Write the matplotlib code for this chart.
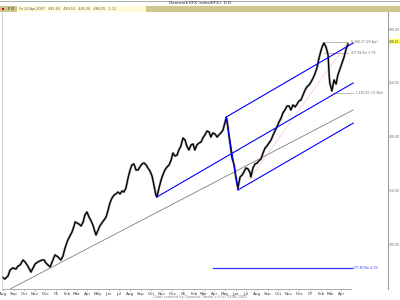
import matplotlib
matplotlib.use("Agg")
import matplotlib.pyplot as plt
import matplotlib.dates as mdates
import numpy as np
import datetime as dt

# ---------------- data ----------------
price_dates = [
    "2004-07-30","2004-08-07","2004-08-16","2004-08-22","2004-08-30","2004-09-08","2004-09-14","2004-09-20",
    "2004-09-28","2004-10-04","2004-10-10","2004-10-15","2004-10-21","2004-10-27","2004-11-02","2004-11-10",
    "2004-11-16","2004-11-22","2004-11-28","2004-12-03","2004-12-09","2004-12-15","2004-12-21","2004-12-29",
    "2005-01-07","2005-01-15","2005-01-21","2005-01-27","2005-02-04","2005-02-10","2005-02-16","2005-02-22",
    "2005-02-25","2005-03-02","2005-03-08","2005-03-14","2005-03-20","2005-03-25","2005-03-31","2005-04-06",
    "2005-04-12","2005-04-17","2005-04-23","2005-04-26","2005-05-02","2005-05-07","2005-05-13","2005-05-19",
    "2005-05-25","2005-05-30","2005-06-05","2005-06-11","2005-06-17","2005-06-22","2005-06-28","2005-07-04",
    "2005-07-10","2005-07-15","2005-07-21","2005-07-27","2005-08-02","2005-08-07","2005-08-13","2005-08-19",
    "2005-08-25","2005-08-30","2005-09-05","2005-09-11","2005-09-17","2005-09-22","2005-09-28","2005-10-04",
    "2005-10-10","2005-10-15","2005-10-18","2005-10-24","2005-10-30","2005-11-05","2005-11-10","2005-11-16",
    "2005-11-22","2005-11-28","2005-12-03","2005-12-09","2005-12-15","2005-12-20","2005-12-26","2006-01-01",
    "2006-01-07","2006-01-12","2006-01-18","2006-01-24","2006-01-30","2006-02-04","2006-02-10","2006-02-16",
    "2006-02-22","2006-02-27","2006-03-05","2006-03-11","2006-03-17","2006-03-22","2006-03-28","2006-04-03",
    "2006-04-09","2006-04-14","2006-04-20","2006-04-26","2006-05-02","2006-05-05","2006-05-07","2006-05-10",
    "2006-05-16","2006-05-22","2006-05-28","2006-06-02","2006-06-05","2006-06-08","2006-06-14","2006-06-20",
    "2006-06-25","2006-07-01","2006-07-07","2006-07-13","2006-07-15","2006-07-21","2006-07-27","2006-08-02",
    "2006-08-07","2006-08-13","2006-08-19","2006-08-25","2006-08-30","2006-09-05","2006-09-11","2006-09-17",
    "2006-09-22","2006-09-28","2006-10-04","2006-10-10","2006-10-15","2006-10-21","2006-10-27","2006-11-02",
    "2006-11-07","2006-11-13","2006-11-19","2006-11-25","2006-11-30","2006-12-06","2006-12-12","2006-12-18",
    "2006-12-23","2006-12-29","2007-01-04","2007-01-10","2007-01-15","2007-01-21","2007-01-27","2007-02-02",
    "2007-02-07","2007-02-10","2007-02-16","2007-02-22","2007-02-25","2007-02-27","2007-03-05","2007-03-11",
    "2007-03-17","2007-03-22","2007-03-28","2007-04-03","2007-04-09","2007-04-14","2007-04-20",
]
price_close = [
    269.4,267.5,270.3,275.9,277.8,276.8,279.6,280.6,
    285.2,283.4,280.6,277.8,274.0,277.8,281.5,283.4,
    284.3,285.2,285.2,282.4,280.6,278.7,283.4,289.9,
    288.0,285.2,288.9,296.4,303.8,307.6,311.3,316.9,
    320.6,319.7,318.7,316.9,320.6,327.1,329.9,325.2,
    321.5,317.8,311.3,308.5,313.1,316.9,319.7,322.5,
    325.2,330.8,338.3,342.9,345.7,346.7,348.5,346.7,
    349.5,348.5,352.2,361.5,369.0,373.7,374.6,369.0,
    369.0,371.8,374.6,375.5,373.7,370.9,368.1,363.4,
    354.1,345.7,343.9,352.2,359.7,365.3,369.0,371.8,
    373.7,378.3,384.8,382.0,382.9,387.6,391.3,398.8,
    396.9,391.3,387.6,392.3,393.2,387.6,392.3,394.1,
    395.1,398.8,401.6,405.3,404.4,399.7,403.5,402.5,
    399.7,401.6,403.5,406.3,413.7,417.4,416.5,409.0,
    394.1,380.2,373.7,362.5,356.9,352.2,362.5,364.3,
    367.1,370.9,369.9,366.2,362.5,370.9,374.6,375.5,
    377.4,379.2,384.8,389.5,391.3,394.1,396.9,401.6,
    405.3,409.0,413.7,417.4,422.1,424.9,428.6,428.6,
    424.9,429.5,427.7,430.4,433.2,434.2,438.8,443.5,
    446.3,448.1,450.9,454.7,458.4,464.0,473.3,480.7,
    485.4,487.2,483.5,476.1,457.4,450.0,442.6,452.8,
    449.1,457.4,463.0,468.6,474.2,480.7,486.3,
]

# trend / channel lines (start date, start value, end date, end value)
gray_trend = ("2004-08-22", 258.2, "2007-05-05", 424.9)
chan_mid = ("2005-10-18", 343.9, "2007-05-05", 450.0)
chan_up = ("2006-05-05", 418.3, "2007-05-05", 487.2)
chan_low = ("2006-06-08", 350.4, "2007-05-05", 412.6)
drop_line = ("2006-05-05", 418.3, "2006-06-08", 350.4)
red_line = ("2006-07-10", 359.7, "2007-04-17", 487.2)

# horizontal levels: (start, end, value, label)
gray_levels = [
    ("2007-02-09", "2007-04-20", 488.2, "H 488.27 (20-Apr)"),
    ("2007-02-09", "2007-04-20", 477.9, "477.84 Ret 3.7%"),
    ("2007-03-07", "2007-05-04", 440.7, "L 440.65 (05-Mar)"),
]
blue_level = ("2006-03-28", "2007-05-02", 277.8, "277.80 Ret 4.1%")

month_labels = ["Aug","Sep","Oct","Nov","Dec","05","Feb","Mar","Apr","May","Jun","Jul",
                "Aug","Sep","Oct","Nov","Dec","06","Feb","Mar","Apr","May","Jun","Jul",
                "Aug","Sep","Oct","Nov","Dec","07","Feb","Mar","Apr"]
y_ticks = [300, 350, 400, 450, 500]
last_price = 488.25

# ---------------- drawing ----------------
def d(s):
    return mdates.date2num(dt.datetime.strptime(s, "%Y-%m-%d"))

fig = plt.figure(figsize=(4, 3), dpi=100)
fig.patch.set_facecolor("white")
ax = fig.add_axes([0.005, 1 - 289/300, 0.97 - 0.005, (289 - 12)/300])

x0 = d("2005-01-01")
ax.set_xlim(x0 - 155.2, x0 + 954.2)
ax.set_ylim(258.2, 516.1)

xs = [d(s) for s in price_dates]
ax.plot(xs, price_close, color="#a0a0a0", lw=1.7, zorder=3)
ax.plot(xs, price_close, color="black", lw=0.9, zorder=4)

def seg(t, **kw):
    ax.plot([d(t[0]), d(t[2])], [t[1], t[3]], **kw)

seg(gray_trend, color="#808080", lw=0.6, zorder=2)
seg(chan_mid, color="#0000ff", lw=0.8, zorder=5)
seg(chan_up, color="#0000ff", lw=0.8, zorder=5)
seg(chan_low, color="#0000ff", lw=0.8, zorder=5)
seg(drop_line, color="#0000ff", lw=0.8, zorder=5)
seg(red_line, color="#ff9090", lw=0.5, ls=(0, (1, 1)), zorder=2)

for s, e, v, lab in gray_levels:
    ax.plot([d(s), d(e)], [v, v], color="#b0b0b0", lw=0.6, zorder=2)
    ax.text(d(e) + 8, v, lab, fontsize=2.2, color="#707070", va="center", ha="left")

s, e, v, lab = blue_level
ax.plot([d(s), d(e)], [v, v], color="#3030ff", lw=0.9, zorder=2)
ax.text(d(e) + 4, v, lab, fontsize=2.2, color="#3030ff", va="center", ha="left")

# axes styling
for sp in ["top", "left"]:
    ax.spines[sp].set_visible(False)
ax.spines["right"].set_color("#a0a0a0")
ax.spines["right"].set_linewidth(0.8)
ax.spines["bottom"].set_color("#a0a0a0")
ax.spines["bottom"].set_linewidth(0.6)
ax.spines["bottom"].set_bounds(x0 - 155.2, d("2007-04-30"))

# month ticks
mt = []
y, m = 2004, 8
for _ in month_labels:
    mt.append(mdates.date2num(dt.datetime(y, m, 1)))
    m += 1
    if m > 12:
        m = 1
        y += 1
ax.set_xticks(mt)
ax.set_xticklabels(month_labels, fontsize=3.0, color="#404040")
ax.tick_params(axis="x", length=1.5, width=0.4, pad=0.8, color="#a0a0a0")

ax.yaxis.tick_right()
ax.set_yticks(y_ticks)
ax.set_yticklabels([f"{t:.2f}" for t in y_ticks], fontsize=2.2, color="#606060")
ax.tick_params(axis="y", length=0, pad=0.8)

ax.text(1.003, last_price, f"{last_price:.2f}", transform=ax.get_yaxis_transform(),
        fontsize=2.2, color="#404040", va="center", ha="left",
        bbox=dict(boxstyle="square,pad=0.15", fc="#ffff60", ec="none"))

# header
fig.add_artist(plt.Line2D([0, 1], [0.998, 0.998], color="#a0a0a0", lw=0.6))
fig.text(0.5, 1 - 3.5/300, "Denmark KFX Index/KFX-I  D D", fontsize=3.0,
         ha="center", va="center", color="#202020")
fig.patches.append(plt.Rectangle((0, 1 - 11.5/300), 1, 5.5/300, transform=fig.transFigure,
                                 fc="#cdc78e", ec="none"))
fig.patches.append(plt.Rectangle((17/400, 1 - 11.5/300), 129/400, 5.5/300, transform=fig.transFigure,
                                 fc="#fffbd6", ec="none"))
fig.patches.append(plt.Rectangle((1.5/400, 1 - 10/300), 2.5/400, 2.5/300, transform=fig.transFigure,
                                 fc="#e00000", ec="none"))
fig.text(8/400, 1 - 8.8/300, "F D", fontsize=2.6, ha="left", va="center", color="#202020")
fig.text(19/400, 1 - 8.8/300, "Fri 20-Apr-2007   485.60   489.10   485.30   488.25   2.11",
         fontsize=2.4, ha="left", va="center", color="#606060")
fig.add_artist(plt.Line2D([0.005, 0.005], [1 - 12/300, 1 - 289/300], color="#c0c0c0", lw=0.5))

# footer
fig.text(0.5, 1 - 297/300, "Chart created by Dynamic Trader v.4 (c) 1998-2003", fontsize=2.6,
         ha="center", va="center", color="#808080")

fig.savefig("out.png", dpi=100, facecolor="white")
